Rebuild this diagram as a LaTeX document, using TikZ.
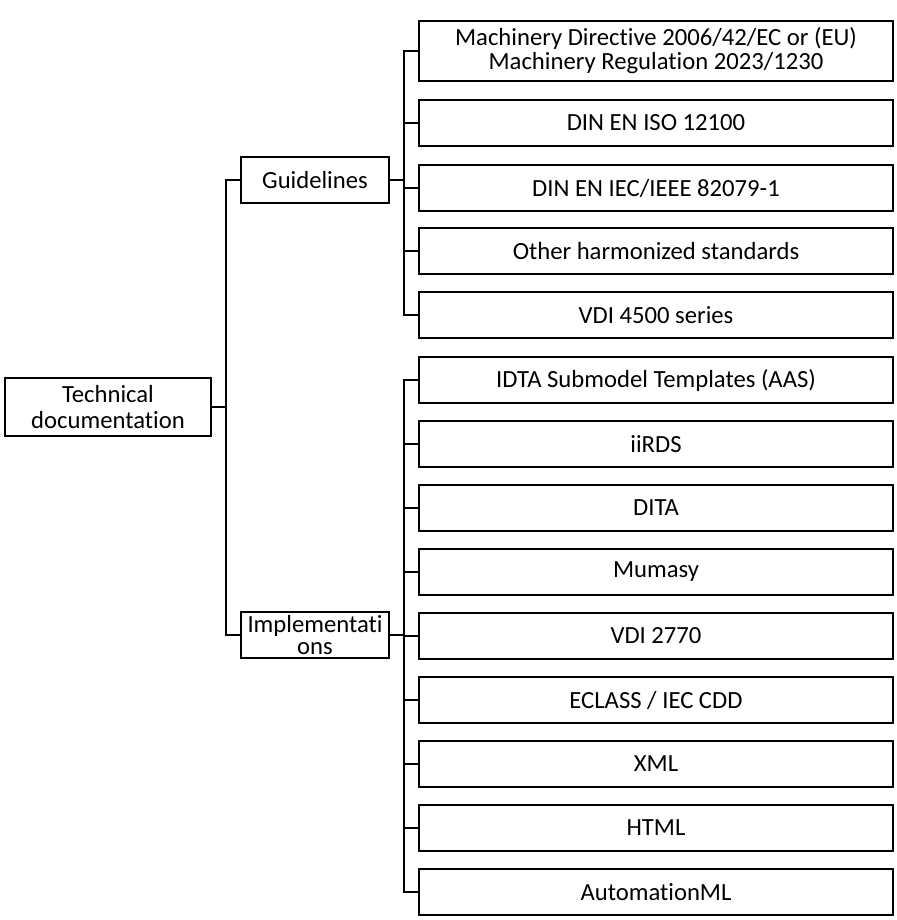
\documentclass[tikz,border=0pt]{standalone}
\usepackage{fontspec}
\setmainfont{Carlito}[Ligatures=NoCommon]
\usetikzlibrary{positioning}
\begin{document}
\begin{tikzpicture}[x=0.75pt,y=-0.75pt]
\tikzstyle{item}=[rectangle, draw=black, line width=1.5pt, minimum width=355pt, minimum height=34pt, inner sep=1pt, align=center, font=\fontsize{18.5}{18}\selectfont]
\tikzstyle{group}=[rectangle, draw=black, line width=1.5pt, minimum width=111pt, minimum height=34pt, inner sep=1pt, align=center, font=\fontsize{18.5}{17}\selectfont]
\tikzstyle{root}=[rectangle, draw=black, line width=1.5pt, minimum width=154pt, minimum height=43pt, inner sep=1pt, align=center, font=\fontsize{18.5}{19}\selectfont]
\tikzstyle{connect}=[line width=1.5pt]
\useasboundingbox (0,0) rectangle (896,920);
	\node[root] (tech) at (108,407) {Technical\\documentation};
	\node[group] (guide) at (315,180) {Guidelines};
	\node[group] (impl) at (315,635) {Implementati\\ons};
	\node[item, minimum height=45pt] (g_1) at (656,51) {Machinery Directive 2006/42/EC or (EU)\\Machinery Regulation 2023/1230};
	\node[item] (g_2) at (656,123) {DIN EN ISO 12100};
	\node[item] (g_3) at (656,188) {DIN EN IEC/IEEE 82079-1};
	\node[item] (g_4) at (656,251) {Other harmonized standards};
	\node[item] (g_5) at (656,315) {VDI 4500 series};
	\foreach \t [count=\i] in {IDTA Submodel Templates (AAS), iiRDS, DITA, Mumasy, VDI 2770, ECLASS / IEC CDD, XML, HTML, AutomationML}
		\node[item] (i_\i) at (656,{380+64*(\i-1)}) {\t};
	% tree
	\coordinate (tj) at (226,407);
	\draw[connect] (tech.east) -- (tj) |- (guide.west);
	\draw[connect] (tj) |- (impl.west);
	\coordinate (gj) at (404,180);
	\draw[connect] (guide.east) -- (gj);
	\foreach \i in {1,...,5}
		\draw[connect] (gj) |- (g_\i.west);
	\coordinate (ij) at (404,635);
	\draw[connect] (impl.east) -- (ij);
	\foreach \i in {1,...,9}
		\draw[connect] (ij) |- (i_\i.west);
\end{tikzpicture}
\end{document}
